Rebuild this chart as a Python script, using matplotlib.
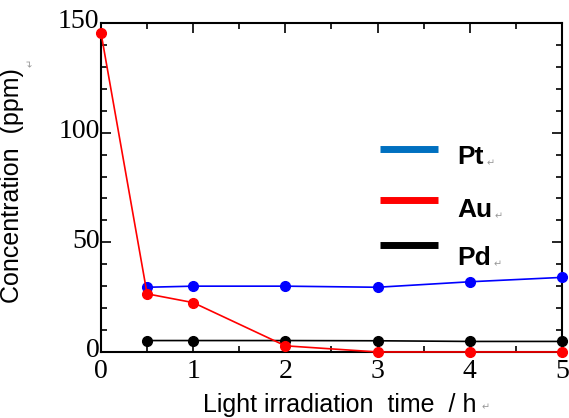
import matplotlib
matplotlib.use('Agg')
import matplotlib.pyplot as plt
from matplotlib.ticker import MultipleLocator
from matplotlib.transforms import ScaledTranslation

# Concentration vs. irradiation time
time_au = [0, 0.5, 1, 2, 3, 4, 5]
au = [145.5, 26.5, 22.5, 2.8, 0, 0, 0]

time_pt = [0.5, 1, 2, 3, 4, 5]
pt = [29.5, 30, 30, 29.5, 32, 34]

time_pd = [0.5, 1, 2, 3, 4, 5]
pd_ = [5.2, 5.2, 5.2, 5.1, 4.8, 4.8]

labels = ['Pt', 'Au', 'Pd']
key_colors = ['#0070C0', '#FF0000', '#000000']
RET = '\u21b5'


def main():
    fig = plt.figure(figsize=(5.69, 4.18), dpi=100)
    ax = fig.add_axes([0.1775, 0.158, 0.81, 0.787])

    ax.plot(time_pt, pt, '-o', color='#0000FF', lw=1.2, ms=7, clip_on=False, zorder=3)
    ax.plot(time_pd, pd_, '-o', color='black', lw=1.2, ms=7, clip_on=False, zorder=3)
    ax.plot(time_au, au, '-o', color='#FF0000', lw=1.2, ms=7, clip_on=False, zorder=4)

    ax.set_xlim(0, 5)
    ax.set_ylim(0, 150)
    ax.xaxis.set_major_locator(MultipleLocator(1))
    ax.xaxis.set_minor_locator(MultipleLocator(0.5))
    ax.yaxis.set_major_locator(MultipleLocator(50))
    ax.yaxis.set_minor_locator(MultipleLocator(10))
    ax.tick_params(which='both', direction='in', top=True, right=True, width=1.2)
    ax.tick_params(which='major', length=7)
    ax.tick_params(axis='x', which='major', pad=5)
    ax.tick_params(axis='y', which='major', pad=1)
    ax.tick_params(which='minor', length=4)
    for s in ax.spines.values():
        s.set_linewidth(1.5)
    for lab in ax.get_xticklabels() + ax.get_yticklabels():
        lab.set_fontfamily('Liberation Serif')
        lab.set_fontsize(20)
    # nudge y tick labels up a little so the two zeros don't collide
    lift = ScaledTranslation(0, 3 / 72, fig.dpi_scale_trans)
    for lab in ax.get_yticklabels():
        lab.set_transform(lab.get_transform() + lift)

    ax.set_xlabel('Light irradiation  time  / h', fontsize=18,
                  fontfamily='Liberation Sans')
    ax.set_ylabel('Concentration  (ppm)', fontsize=18,
                  fontfamily='Liberation Sans')
    ax.xaxis.set_label_coords(0.517, -0.125)
    ax.yaxis.set_label_coords(-0.168, 0.505)
    fig.text(0.846, 0.018, RET, fontsize=7, color='#999999')
    fig.text(0.046, 0.845, RET, fontsize=7, color='#999999', rotation=90)

    # hand-drawn key
    line_y = [0.617, 0.462, 0.325]
    text_y = [0.593, 0.432, 0.286]
    ret_x = [0.837, 0.853, 0.851]
    for lab, c, ly, ty, rx in zip(labels, key_colors, line_y, text_y, ret_x):
        ax.plot([0.605, 0.731], [ly, ly], color=c, lw=5, transform=ax.transAxes,
                solid_capstyle='butt')
        ax.text(0.774, ty, lab, transform=ax.transAxes, fontsize=19,
                fontweight='bold', fontfamily='Liberation Sans', va='center')
        ax.text(rx, ty - 0.02, RET, transform=ax.transAxes, fontsize=7,
                color='#999999', va='center')

    plt.savefig('out.png', dpi=100)


if __name__ == '__main__':
    main()
